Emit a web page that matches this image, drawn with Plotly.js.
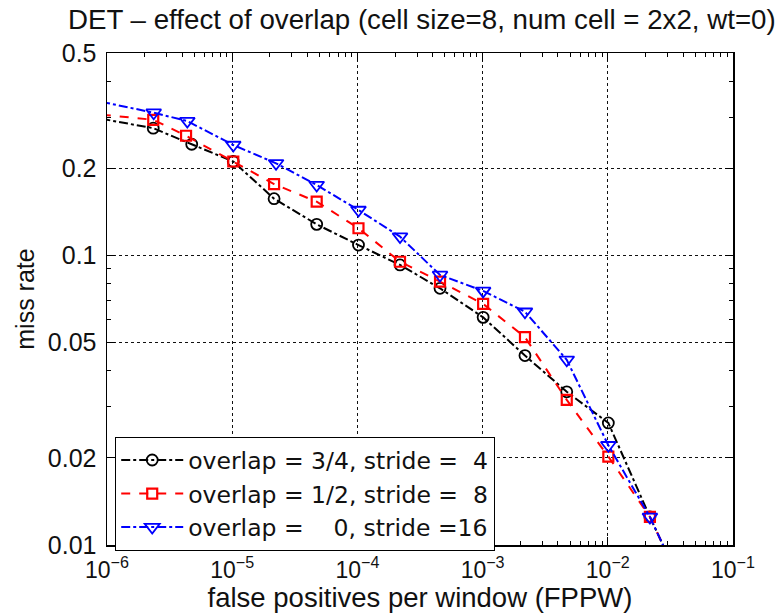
<!DOCTYPE html>
<html>
<head>
<meta charset="utf-8">
<script src="https://cdn.plot.ly/plotly-3.0.1.min.js"></script>
<style>
html,body{margin:0;padding:0;background:#fff;}
#chart{width:782px;height:613px;}
</style>
</head>
<body>
<div id="chart"></div>
<script>
// FPPW (x) and miss rate (y)
var blackX = [4.7e-7, 2.34e-6, 4.75e-6, 1.02e-5, 2.16e-5, 4.73e-5, 1.02e-4, 2.19e-4, 4.57e-4, 1.01e-3, 2.18e-3, 4.70e-3, 1.01e-2, 2.17e-2, 4.7e-2];
var blackY = [0.312, 0.275, 0.242, 0.211, 0.157, 0.128, 0.1086, 0.0927, 0.0770, 0.0611, 0.0451, 0.0338, 0.0264, 0.0125, 0.0061];
var redX = [4.7e-7, 2.34e-6, 4.28e-6, 1.02e-5, 2.16e-5, 4.73e-5, 1.02e-4, 2.19e-4, 4.57e-4, 1.01e-3, 2.18e-3, 4.70e-3, 1.01e-2, 2.17e-2, 4.7e-2];
var redY = [0.315, 0.294, 0.259, 0.211, 0.1764, 0.1533, 0.1241, 0.0951, 0.0812, 0.0680, 0.0522, 0.0317, 0.0202, 0.0125, 0.0061];
var blueX = [4.7e-7, 2.36e-6, 4.38e-6, 1.02e-5, 2.24e-5, 4.73e-5, 1.02e-4, 2.19e-4, 4.57e-4, 1.01e-3, 2.18e-3, 4.70e-3, 1.01e-2, 2.17e-2, 4.7e-2];
var blueY = [0.36, 0.311, 0.291, 0.2406, 0.208, 0.175, 0.1435, 0.1161, 0.0856, 0.0754, 0.0639, 0.0436, 0.0221, 0.0125, 0.0061];

var seriesNames = [
  'overlap = 3/4, stride =\u00a0\u00a04',
  'overlap = 1/2, stride =\u00a0\u00a08',
  'overlap =\u00a0\u00a0\u00a0\u00a00, stride =16'
];

var xTickVals = [1e-6, 1e-5, 1e-4, 1e-3, 1e-2, 1e-1];
var xTickText = ['10<sup>\u22126</sup>', '10<sup>\u22125</sup>', '10<sup>\u22124</sup>', '10<sup>\u22123</sup>', '10<sup>\u22122</sup>', '10<sup>\u22121</sup>'];
var yTickVals = [0.01, 0.02, 0.05, 0.1, 0.2, 0.5];
var yTickText = ['0.01', '0.02', '0.05', '0.1', '0.2', '0.5'];

var xMinor = [];
[1e-6, 1e-5, 1e-4, 1e-3, 1e-2].forEach(function (d) {
  for (var k = 2; k <= 9; k++) xMinor.push(k * d);
});
var yMinor = [0.03, 0.04, 0.06, 0.07, 0.08, 0.09, 0.3, 0.4];

var FONT = 'Liberation Sans, Arial, Helvetica, sans-serif';
var LEGFONT = 'DejaVu Sans, Liberation Sans, sans-serif';

var traces = [
  {x: blackX, y: blackY, name: seriesNames[0], type: 'scatter', mode: 'lines+markers',
   line: {color: '#000000', width: 2, dash: 'dashdot'},
   marker: {symbol: 'circle-open', size: 11, color: '#000000', line: {width: 1.8, color: '#000000'}}},
  {x: redX, y: redY, name: seriesNames[1], type: 'scatter', mode: 'lines+markers',
   line: {color: '#ff0000', width: 2, dash: 'dash'},
   marker: {symbol: 'square-open', size: 10, color: '#ff0000', line: {width: 2.2, color: '#ff0000'}}},
  {x: blueX, y: blueY, name: seriesNames[2], type: 'scatter', mode: 'lines+markers',
   line: {color: '#0000ff', width: 2, dash: 'dashdot'},
   marker: {symbol: 'triangle-down-open', size: 13, color: '#0000ff', line: {width: 1.8, color: '#0000ff'}}}
];

var layout = {
  width: 782, height: 613,
  margin: {l: 107, r: 49, t: 53, b: 68},
  paper_bgcolor: '#ffffff', plot_bgcolor: '#ffffff',
  font: {family: FONT, color: '#111111', size: 25},
  showlegend: true,
  title: {text: 'DET \u2013 effect of overlap (cell size=8, num cell = 2x2, wt=0)',
          font: {family: FONT, size: 27.7, color: '#111111'},
          xref: 'paper', x: 0.503, xanchor: 'center', yref: 'container', y: 0.968, yanchor: 'middle'},
  xaxis: {
    type: 'log', range: [-6, -1],
    tickmode: 'array', tickvals: xTickVals, ticktext: xTickText,
    ticks: 'inside', ticklen: 8, tickwidth: 1, tickcolor: '#000',
    showline: true, linecolor: '#000', linewidth: 1.5, mirror: 'ticks',
    showgrid: true, gridcolor: '#111', griddash: 'dot', gridwidth: 1,
    zeroline: false,
    tickfont: {family: FONT, size: 23, color: '#111'},
    ticklabelstandoff: 4,
    minor: {tickmode: 'array', tickvals: xMinor, ticks: 'inside', ticklen: 4, tickcolor: '#000', showgrid: false},
    title: {text: 'false positives per window (FPPW)', font: {family: FONT, size: 27.5, color: '#111'}, standoff: 5}
  },
  yaxis: {
    type: 'log', range: [Math.log10(0.01), Math.log10(0.5)],
    tickmode: 'array', tickvals: yTickVals, ticktext: yTickText,
    ticks: 'inside', ticklen: 8, tickwidth: 1, tickcolor: '#000',
    showline: true, linecolor: '#000', linewidth: 1.5, mirror: 'ticks',
    showgrid: true, gridcolor: '#111', griddash: 'dot', gridwidth: 1,
    zeroline: false,
    tickfont: {family: FONT, size: 25, color: '#111'},
    ticklabelstandoff: 4,
    minor: {tickmode: 'array', tickvals: yMinor, ticks: 'inside', ticklen: 4, tickcolor: '#000', showgrid: false},
    title: {text: 'miss rate', font: {family: FONT, size: 25, color: '#111'}, standoff: 6}
  },
  legend: {
    x: 0.0128, xanchor: 'left', y: 0.2195, yanchor: 'top',
    bgcolor: '#ffffff', bordercolor: '#000000', borderwidth: 1.2,
    font: {family: LEGFONT, size: 23.5, color: '#111'},
    itemwidth: 62, tracegroupgap: 0
  }
};

Plotly.newPlot('chart', traces, layout, {staticPlot: true, displayModeBar: false});
</script>
</body>
</html>
